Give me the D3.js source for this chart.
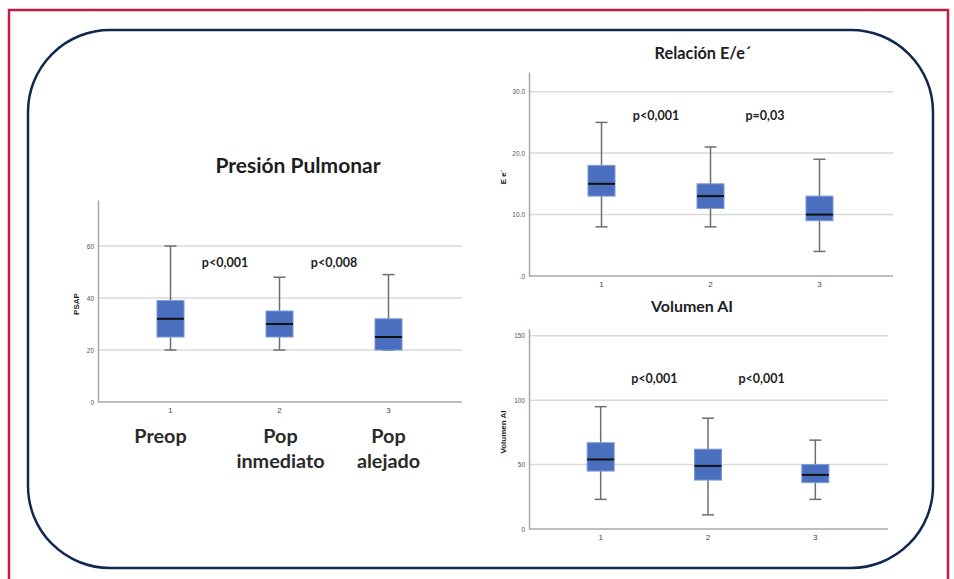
<!DOCTYPE html>
<html><head><meta charset="utf-8">
<script src="https://cdn.jsdelivr.net/npm/d3@7"></script>
<style>body{margin:0;background:#fff}</style>
</head><body><svg id="c" width="954" height="579"></svg>
<script>
// ---------- DATA ----------
const groups = ["1", "2", "3"];
const categoryLabels = [["Preop"], ["Pop", "inmediato"], ["Pop", "alejado"]];
// each box: [whiskerLow, Q1, median, Q3, whiskerHigh]
const psapBoxes = [[20, 25, 32, 39, 60], [20, 25, 30, 35, 48], [20, 20, 25, 32, 49]];
const eeBoxes   = [[8, 13, 15, 18, 25], [8, 11, 13, 15, 21], [4, 9, 10, 13, 19]];
const volBoxes  = [[23, 45, 54, 67, 95], [11, 38, 49, 62, 86], [23, 36, 42, 50, 69]];
const psapTicks = [0, 20, 40, 60];
const eeTicks   = [0, 10, 20, 30];
const volTicks  = [0, 50, 100, 150];
const psapP = ["p<0,001", "p<0,008"];
const eeP   = ["p<0,001", "p=0,03"];
const volP  = ["p<0,001", "p<0,001"];

// ---------- LAYOUT ----------
const svg = d3.select("#c");
svg.append("rect").attr("x", 9).attr("y", 10).attr("width", 939).attr("height", 600)
  .attr("fill", "none").attr("stroke", "#c81a40").attr("stroke-width", 2.5);
svg.append("rect").attr("x", 28).attr("y", 30).attr("width", 905).attr("height", 538)
  .attr("rx", 82).attr("ry", 82)
  .attr("fill", "none").attr("stroke", "#102850").attr("stroke-width", 2.5);

const charts = [
  { boxes: psapBoxes, ticks: psapTicks, pvals: psapP, max: 77.7, fmt: d => String(d),
    left: 98, right: 462, top: 200, bottom: 402,
    title: "Presión Pulmonar", titleX: 298, titleY: 173, titleSize: 21,
    ylabel: "PSAP", ylabelX: 79, pY: 267 },
  { boxes: eeBoxes, ticks: eeTicks, pvals: eeP, max: 33.2, fmt: d => d === 0 ? ".0" : d.toFixed(1),
    left: 529, right: 893, top: 72, bottom: 276,
    title: "Relación E/e´", titleX: 703, titleY: 59, titleSize: 16.3,
    ylabel: "E e´", ylabelX: 506, pY: 120 },
  { boxes: volBoxes, ticks: volTicks, pvals: volP, max: 155.3, fmt: d => String(d),
    left: 529, right: 888, top: 329, bottom: 529,
    title: "Volumen AI", titleX: 692, titleY: 312, titleSize: 16,
    ylabel: "Volumen AI", ylabelX: 506, pY: 383 }
];

charts.forEach(c => {
  const g = svg.append("g");
  const y = d3.scaleLinear().domain([0, c.max]).range([c.bottom, c.top]);
  const x = d3.scaleBand().domain(groups).range([c.left + 18, c.right - 19]).paddingInner(0.75).paddingOuter(0.375);
  const cx = d => x(d) + x.bandwidth() / 2;
  const bw = 27, cap = 12;

  // gridlines
  g.selectAll(".grid").data(c.ticks.filter(t => t > 0)).join("line")
    .attr("x1", c.left).attr("x2", c.right)
    .attr("y1", d => y(d)).attr("y2", d => y(d))
    .attr("stroke", "#dadada").attr("stroke-width", 1.5);

  // y axis
  const ya = g.append("g").attr("transform", `translate(${c.left},0)`)
    .call(d3.axisLeft(y).tickValues(c.ticks).tickFormat(c.fmt).tickSize(0).tickPadding(4));
  ya.select(".domain").attr("stroke", "#a8a8a8").attr("stroke-width", 1.5);
  ya.selectAll("text").attr("font-family", "Liberation Sans, Arial").attr("font-size", 6.5).attr("fill", "#555");

  // x axis
  const xa = g.append("g").attr("transform", `translate(0,${c.bottom})`)
    .call(d3.axisBottom(x).tickSize(0).tickPadding(5));
  xa.select(".domain").attr("d", `M${c.left},0H${c.right}`).attr("stroke", "#a8a8a8").attr("stroke-width", 1.5);
  xa.selectAll("text").attr("font-family", "Liberation Sans, Arial").attr("font-size", 8).attr("fill", "#444");

  // title
  g.append("text").attr("x", c.titleX).attr("y", c.titleY).attr("text-anchor", "middle")
    .attr("font-family", "Lato, sans-serif").attr("font-weight", 700).attr("font-size", c.titleSize)
    .attr("fill", "#1e1e1e").text(c.title);

  // y label
  g.append("text").attr("transform", `translate(${c.ylabelX},${(c.top + c.bottom) / 2 + 3}) rotate(-90)`)
    .attr("text-anchor", "middle").attr("font-family", "Liberation Sans, Arial").attr("font-weight", 700)
    .attr("font-size", 8).attr("fill", "#222").text(c.ylabel);

  // boxes
  const bx = g.selectAll(".box").data(c.boxes.map((b, i) => ({ g: groups[i], b }))).join("g");
  bx.append("line").attr("x1", d => cx(d.g)).attr("x2", d => cx(d.g))
    .attr("y1", d => y(d.b[0])).attr("y2", d => y(d.b[4]))
    .attr("stroke", "#6e6e6e").attr("stroke-width", 1.5);
  [0, 4].forEach(k => {
    bx.append("line").attr("x1", d => cx(d.g) - cap / 2).attr("x2", d => cx(d.g) + cap / 2)
      .attr("y1", d => y(d.b[k])).attr("y2", d => y(d.b[k]))
      .attr("stroke", "#6e6e6e").attr("stroke-width", 1.5);
  });
  bx.append("rect").attr("x", d => cx(d.g) - bw / 2).attr("width", bw)
    .attr("y", d => y(d.b[3])).attr("height", d => y(d.b[1]) - y(d.b[3]))
    .attr("fill", "#4a6fbe").attr("stroke", "#7d98d8").attr("stroke-width", 1);
  bx.append("line").attr("x1", d => cx(d.g) - bw / 2).attr("x2", d => cx(d.g) + bw / 2)
    .attr("y1", d => y(d.b[2])).attr("y2", d => y(d.b[2]))
    .attr("stroke", "#111").attr("stroke-width", 2);

  // p values between groups
  g.selectAll(".p").data(c.pvals).join("text")
    .attr("x", (d, i) => (cx(groups[i]) + cx(groups[i + 1])) / 2)
    .attr("y", c.pY).attr("text-anchor", "middle")
    .attr("font-family", "Lato, sans-serif").attr("font-weight", 700).attr("font-size", 12.5)
    .attr("fill", "#1e1e1e").text(d => d);

  c.x = x; c.cx = cx;
});

// category labels under left chart
const lc = charts[0];
categoryLabels.forEach((lines, i) => {
  const t = svg.append("text").attr("text-anchor", "middle")
    .attr("font-family", "Lato, sans-serif").attr("font-weight", 700).attr("font-size", 19.8)
    .attr("fill", "#2a2a2a");
  lines.forEach((l, j) => {
    t.append("tspan").attr("x", lc.cx(groups[i]) - (i === 0 ? 10 : 0) + (i === 1 ? 1 : 0)).attr("y", 443 + j * 25).text(l);
  });
});
</script>
</body></html>
